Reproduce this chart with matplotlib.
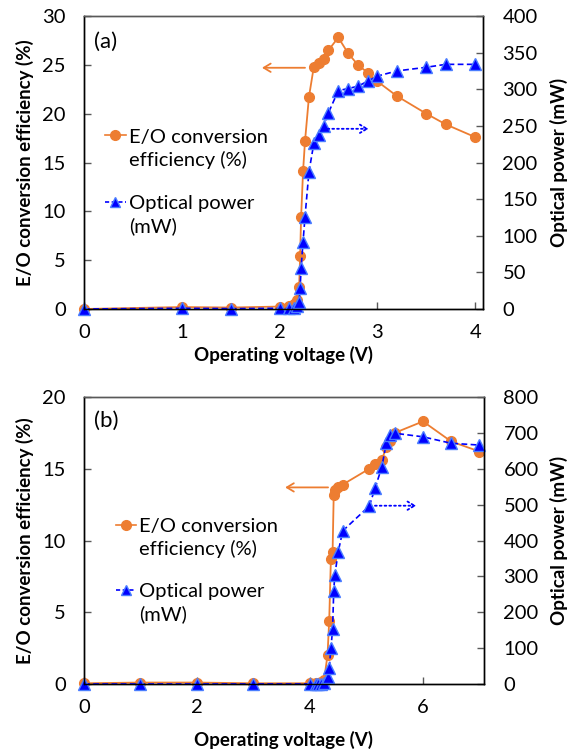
import matplotlib
matplotlib.use('Agg')
import matplotlib.pyplot as plt
from matplotlib.lines import Line2D

c_orange = '#ED7D31'
c_blue = '#0000FF'
c_blue_edge = '#4A7DFF'

# ---- panel (a) ----
volt_a = [0, 1, 1.5, 2, 2.1, 2.15, 2.18, 2.2, 2.21, 2.22, 2.24, 2.26, 2.3, 2.35,
          2.4, 2.45, 2.5, 2.6, 2.7, 2.8, 2.9, 3.0, 3.2, 3.5, 3.7, 4.0]
eff_a = [0, 0.2, 0.15, 0.25, 0.3, 0.5, 0.9, 2.3, 5.4, 9.4, 14.1, 17.2, 21.7, 24.8,
         25.2, 25.6, 26.5, 27.8, 26.2, 25.0, 24.2, 23.3, 21.8, 20.0, 18.9, 17.6]
power_a = [0, 1, 0.5, 1, 1, 2, 4, 10, 28, 56, 92, 126, 187, 226,
           238, 250, 268, 298, 301, 304, 311, 318, 325, 330, 334, 334]

# ---- panel (b) ----
volt_b = [0, 1, 2, 3, 4.0, 4.1, 4.15, 4.2, 4.25, 4.31, 4.34, 4.37, 4.40, 4.42,
          4.44, 4.50, 4.58, 5.05, 5.15, 5.27, 5.35, 5.42, 5.5, 6.0, 6.5, 7.0]
eff_b = [0.05, 0.1, 0.1, 0.05, 0.05, 0.05, 0.1, 0.15, 0.3, 2.0, 4.4, 8.7, 9.2, 13.2,
         13.5, 13.75, 13.9, 15.0, 15.3, 15.6, 16.5, 16.9, 17.5, 18.3, 16.9, 16.2]
power_b = [0, 0, 0, 0, 0, 0, 0, 1, 3, 19, 44, 99, 152, 260,
           304, 369, 427, 496, 545, 604, 671, 694, 699, 689, 671, 666]

plt.rcParams['font.family'] = ['Lato', 'DejaVu Sans']
fs_tick = 14.5
fs_lab = 13.5

W, H = 576, 753
fig = plt.figure(figsize=(W / 100, H / 100), dpi=100)


def px(x, y):
    # pixel coords (top-left origin) -> figure fraction
    return x / W, 1 - y / H


def legend_entry(x0, x1, y, text, ty, color, marker, ls, ms, mec):
    a, b = px(x0, y)
    c, _ = px(x1, y)
    fig.lines.append(Line2D([a, c], [b, b], transform=fig.transFigure, color=color,
                            ls=ls, lw=1.2))
    fig.lines.append(Line2D([(a + c) / 2], [b], transform=fig.transFigure, color=color,
                            marker=marker, ms=ms, mec=mec, ls='none'))
    tx, tyy = px(x1 + 3, ty)
    fig.text(tx, tyy, text, ha='left', va='center', fontsize=fs_tick, linespacing=1.3)


def draw_panel(box, volt, eff, power, xmax, xticks, ymax1, yticks1, ymax2, yticks2,
               tag, tag_xy, xlab_y, leg, arrows):
    l, t, r, b = box
    ax = fig.add_axes([l / W, 1 - b / H, (r - l) / W, (b - t) / H])
    ax2 = ax.twinx()

    ax.plot(volt, eff, color=c_orange, lw=1.3, marker='o', ms=7, mec=c_orange, clip_on=False)
    ax2.plot(volt, power, color=c_blue, ls=(0, (3.5, 2)), lw=1.2, marker='^', ms=8,
             mfc=c_blue, mec=c_blue_edge, clip_on=False)

    ax.set_xlim(0, xmax)
    ax.set_ylim(0, ymax1)
    ax2.set_ylim(0, ymax2)
    ax.set_xticks(xticks)
    ax.set_yticks(yticks1)
    ax2.set_yticks(yticks2)

    for a in (ax, ax2):
        for s in a.spines.values():
            s.set_linewidth(1.0)
            s.set_color('black')
        a.spines['top'].set_color('#595959')
    ax.tick_params(axis='both', direction='in', length=5, width=1, color='#595959',
                   pad=13, labelsize=fs_tick)
    ax.tick_params(axis='x', pad=11)
    ax2.tick_params(axis='y', direction='in', length=5, width=1, color='#595959',
                    pad=14, labelsize=fs_tick)

    ax.set_xlabel('Operating voltage (V)', fontweight='bold', fontsize=fs_lab)
    ax.xaxis.set_label_coords(0.5, (b - xlab_y) / (b - t))
    ax.set_ylabel('E/O conversion efficiency (%)', fontweight='bold', fontsize=fs_lab)
    ax.yaxis.set_label_coords((34 - l) / (r - l), 0.5)
    ax2.set_ylabel('Optical power (mW)', fontweight='bold', fontsize=fs_lab)
    ax2.yaxis.set_label_coords((550 - l) / (r - l), 0.5)

    tx, ty = px(*tag_xy)
    fig.text(tx, ty, tag, ha='left', va='center', fontsize=16)

    # legend drawn by hand so the marker sits on the first text line
    (hx0, hx1, y1, t1, y2, t2) = leg
    legend_entry(hx0, hx1, y1, 'E/O conversion\nefficiency (%)', t1, c_orange, 'o', '-', 7, c_orange)
    legend_entry(hx0, hx1, y2, 'Optical power\n(mW)', t2, c_blue, '^', (0, (2.5, 1.5)), 6.5, c_blue_edge)

    (o_tail, o_tip, bl_tail, bl_tip) = arrows
    ax.annotate('', xy=o_tip, xytext=o_tail,
                arrowprops=dict(arrowstyle='->,head_length=0.5,head_width=0.3',
                                color=c_orange, lw=1.3, shrinkA=0, shrinkB=0))
    ax2.annotate('', xy=bl_tip, xytext=bl_tail,
                 arrowprops=dict(arrowstyle='->,head_length=0.5,head_width=0.3',
                                 color=c_blue, lw=1.3, ls=':', shrinkA=0, shrinkB=0))
    return ax, ax2


draw_panel((84, 16, 483, 309), volt_a, eff_a, power_a, 4.08, [0, 1, 2, 3, 4],
           30, range(0, 31, 5), 400, range(0, 401, 50),
           '(a)', (94, 42), 346,
           (105, 126, 135, 149, 202, 215),
           ((2.26, 24.7), (1.82, 24.7), (2.49, 246), (2.91, 246)))

draw_panel((84, 397, 484, 684), volt_b, eff_b, power_b, 7.08, [0, 2, 4, 6],
           20, range(0, 21, 5), 800, range(0, 801, 100),
           '(b)', (94, 421), 731,
           (116, 136, 525, 538, 590, 603),
           ((4.32, 13.7), (3.56, 13.7), (5.15, 497), (5.88, 497)))

fig.savefig('out.png', dpi=100)
